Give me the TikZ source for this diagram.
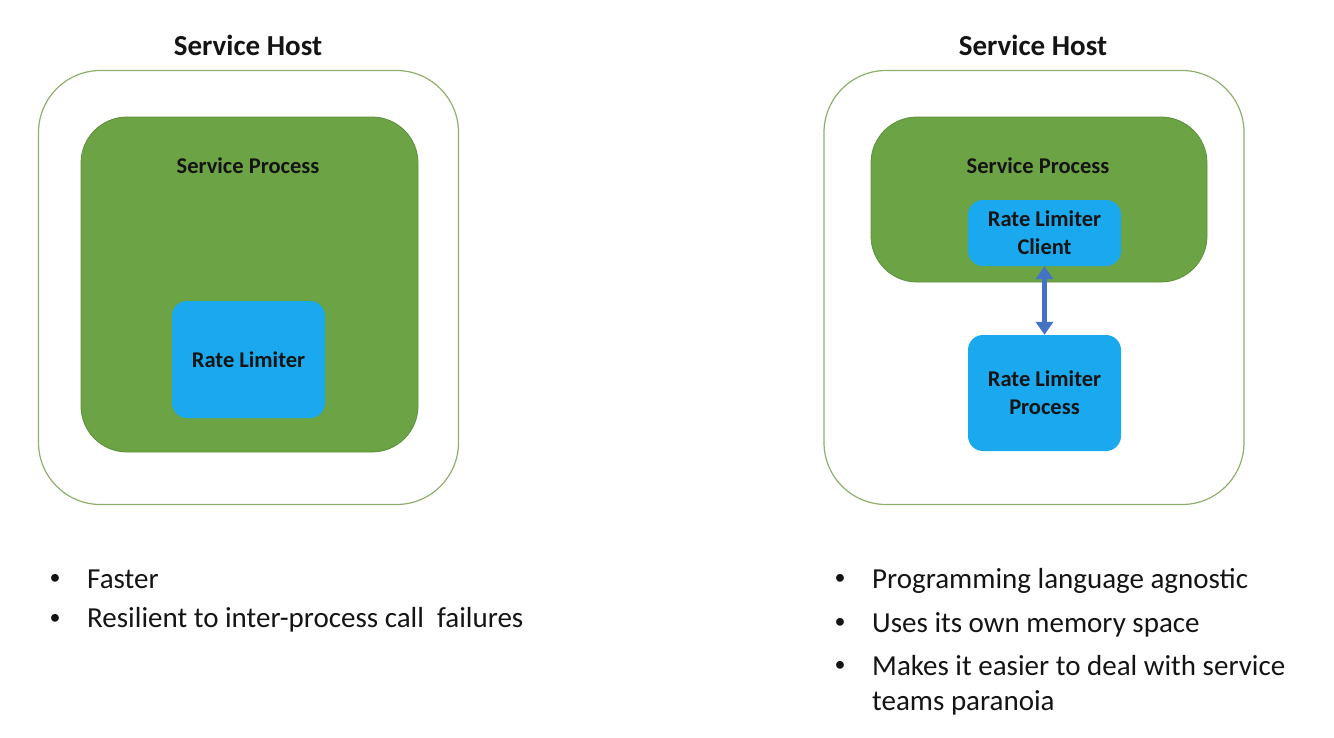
\documentclass[tikz,border=0pt]{standalone}
\usepackage{fontspec}
\setmainfont{Carlito}
\usepackage{xcolor}
\usetikzlibrary{arrows.meta, positioning}

\definecolor{hostline}{HTML}{8FAE6C}
\definecolor{procgreen}{HTML}{6CA445}
\definecolor{procline}{HTML}{5E8F3C}
\definecolor{rlblue}{HTML}{1AA8EE}
\definecolor{linkblue}{HTML}{4472C4}
\definecolor{ink}{HTML}{141414}

\begin{document}
\begin{tikzpicture}[
            x=1pt, y=-1pt,
            host_box/.style={rectangle, rounded corners=62pt, draw=hostline, line width=1.2pt, minimum width=420pt, minimum height=434pt},
            proc_box/.style={rectangle, rounded corners=46pt, draw=procline, fill=procgreen, line width=0.8pt},
            rl_box/.style={rectangle, rounded corners=15pt, fill=rlblue, minimum width=153pt, align=center, text=ink, font=\fontsize{22.5}{28}\selectfont\bfseries},
            title_text/.style={font=\fontsize{29}{32}\selectfont\bfseries, text=ink},
            proc_text/.style={font=\fontsize{22.5}{26}\selectfont\bfseries, text=ink},
            bullet_text/.style={anchor=base west, align=left, font=\fontsize{29}{35.5}\selectfont, text=ink, inner sep=0pt},
            bullet_dot/.style={font=\fontsize{22}{26}\selectfont, text=ink, inner sep=0pt},
            link/.style={{Triangle[width=17pt,length=13pt]}-{Triangle[width=17pt,length=13pt]}, line width=4.5pt, draw=linkblue}
        ]
\useasboundingbox (0,0) rectangle (1334,737);

% Embedded rate limiter (left)
            \node[title_text] (left_title) at (248,45) {Service Host};
            \node[host_box] (left_host) at (248.5,287.5) {};
            \node[proc_box, minimum width=337pt, minimum height=335pt] (left_proc) at (249.5,284.5) {};
            \node[proc_text] (left_proc_label) at (248,166) {Service Process};
            \node[rl_box, minimum height=117pt] (left_rl) at (248.5,359.5) {Rate Limiter};

% Separate rate limiter process (right)
            \node[title_text] (right_title) at (1033,45) {Service Host};
            \node[host_box] (right_host) at (1034,287.5) {};
            \node[proc_box, minimum width=336pt, minimum height=165pt] (right_proc) at (1039,199.5) {};
            \node[proc_text] (right_proc_label) at (1038,166) {Service Process};
            \node[rl_box, minimum height=66pt] (rl_client) at (1044.5,233) {Rate Limiter\\Client};
            \node[rl_box, minimum height=116pt] (rl_process) at (1044.5,393) {Rate Limiter\\Process};

% Client <-> process call
            \draw[link] (rl_client.south) -- (rl_process.north);

% Pros of each option
            \node[bullet_dot] (lb1) at (55,579) {\textbullet};
            \node[bullet_text] (left_p1) at (87,588) {Faster};
            \node[bullet_dot] (lb2) at (55,619) {\textbullet};
            \node[bullet_text] (left_p2) at (87,627) {Resilient to inter-process call\ \ failures};

            \node[bullet_dot] (rb1) at (840,579) {\textbullet};
            \node[bullet_text] (right_p1) at (872,588) {Programming language agnostic};
            \node[bullet_dot] (rb2) at (840,623) {\textbullet};
            \node[bullet_text] (right_p2) at (872,632) {Uses its own memory space};
            \node[bullet_dot] (rb3) at (840,666) {\textbullet};
            \node[bullet_text] (right_p3) at (872,710.5) {Makes it easier to deal with service\\teams paranoia};

        \end{tikzpicture}
\end{document}
